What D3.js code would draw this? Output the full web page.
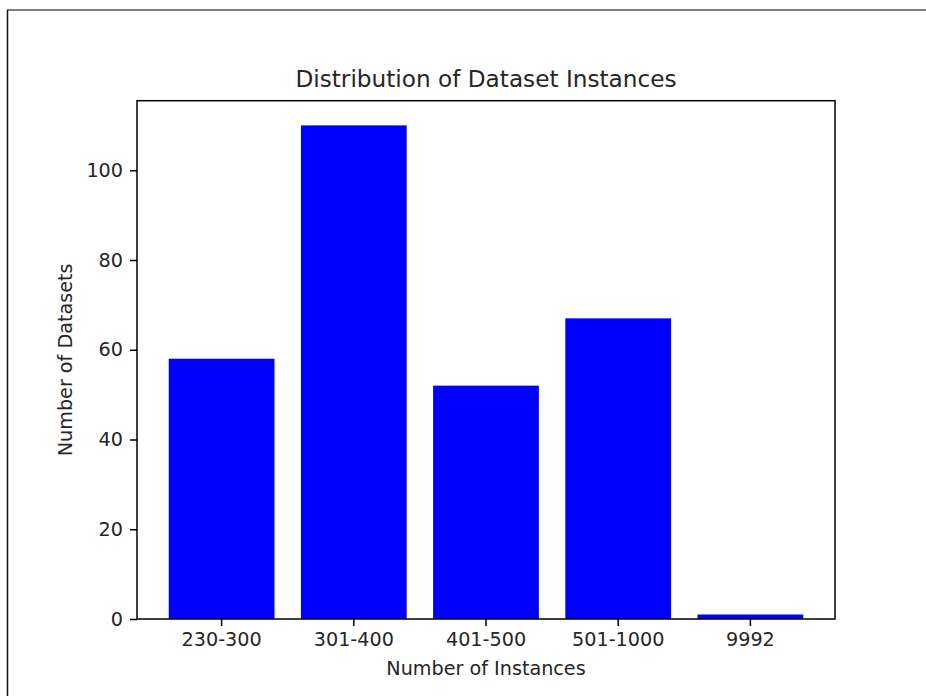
<!DOCTYPE html>
<html>
<head>
<meta charset="utf-8">
<script src="https://cdn.jsdelivr.net/npm/d3@7"></script>
<style>
  html, body { margin: 0; padding: 0; background: #fff; }
  svg { display: block; }
  text { font-family: "DejaVu Sans", sans-serif; fill: #262626; }
</style>
</head>
<body>
<div id="chart"></div>
<script>
// Instance-count buckets and how many datasets fall in each
const categories = ["230-300", "301-400", "401-500", "501-1000", "9992"];
const datasetCounts = [58, 110, 52, 67, 1];
const yTicks = [0, 20, 40, 60, 80, 100];

const titleText = "Distribution of Dataset Instances";
const xLabelText = "Number of Instances";
const yLabelText = "Number of Datasets";

const W = 926, H = 696;
const plot = { left: 137, right: 835, top: 100.7, bottom: 619 };

const svg = d3.select("#chart").append("svg")
  .attr("width", W).attr("height", H);

// page frame
svg.append("line").attr("x1", 7).attr("x2", W).attr("y1", 10).attr("y2", 10)
  .attr("stroke", "#555").attr("stroke-width", 1.5);
svg.append("line").attr("x1", 7.5).attr("x2", 7.5).attr("y1", 10).attr("y2", H)
  .attr("stroke", "#111").attr("stroke-width", 1.5);

const x = d3.scaleBand()
  .domain(categories)
  .range([plot.left, plot.right])
  .paddingInner(0.2)
  .paddingOuter(0.24);

const yMax = d3.max(datasetCounts) * 1.05;
const y = d3.scaleLinear().domain([0, yMax]).range([plot.bottom, plot.top]);

// bars
svg.append("g").selectAll("rect")
  .data(categories.map((c, i) => ({ c, v: datasetCounts[i] })))
  .join("rect")
  .attr("x", d => x(d.c))
  .attr("width", x.bandwidth())
  .attr("y", d => y(d.v))
  .attr("height", d => y(0) - y(d.v))
  .attr("fill", "#0000ff");

const tickFont = 19.2;

// y axis
const yAxis = svg.append("g")
  .attr("transform", `translate(${plot.left},0)`)
  .call(d3.axisLeft(y).tickValues(yTicks).tickSize(7).tickPadding(7));
yAxis.select(".domain").remove();
yAxis.selectAll("line").attr("stroke", "#000").attr("stroke-width", 1.5);
yAxis.selectAll("text").attr("font-size", tickFont)
  .attr("font-family", "DejaVu Sans").attr("fill", "#262626");

// x axis
const xAxis = svg.append("g")
  .attr("transform", `translate(0,${plot.bottom})`)
  .call(d3.axisBottom(x).tickSize(7).tickPadding(6));
xAxis.select(".domain").remove();
xAxis.selectAll("line").attr("stroke", "#000").attr("stroke-width", 1.5);
xAxis.selectAll("text").attr("font-size", tickFont)
  .attr("font-family", "DejaVu Sans").attr("fill", "#262626");

// plot frame
svg.append("rect")
  .attr("x", plot.left).attr("y", plot.top)
  .attr("width", plot.right - plot.left)
  .attr("height", plot.bottom - plot.top)
  .attr("fill", "none").attr("stroke", "#000").attr("stroke-width", 1.5);

const cx = (plot.left + plot.right) / 2;

// title
svg.append("text")
  .attr("x", cx).attr("y", 87)
  .attr("text-anchor", "middle")
  .attr("font-size", 23.2)
  .text(titleText);

// axis labels
svg.append("text")
  .attr("x", cx).attr("y", 675)
  .attr("text-anchor", "middle")
  .attr("font-size", tickFont)
  .text(xLabelText);

svg.append("text")
  .attr("transform", `translate(72,${(plot.top + plot.bottom) / 2}) rotate(-90)`)
  .attr("text-anchor", "middle")
  .attr("font-size", tickFont)
  .text(yLabelText);
</script>
</body>
</html>
